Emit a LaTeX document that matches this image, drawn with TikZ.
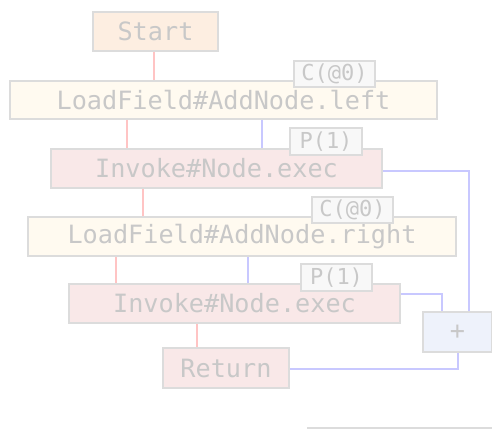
\documentclass[tikz,border=0pt]{standalone}
\usepackage{fontspec}
\setmonofont{DejaVu Sans Mono}
\definecolor{txt}{HTML}{C8C8C8}
\definecolor{bord}{HTML}{DCDCDC}
\definecolor{fstart}{HTML}{FDEEE1}
\definecolor{fload}{HTML}{FFFAF0}
\definecolor{finv}{HTML}{F9E8E8}
\definecolor{fplus}{HTML}{EEF2FB}
\definecolor{flab}{HTML}{F8F8F8}
\definecolor{cred}{HTML}{FFC4C4}
\definecolor{cblue}{HTML}{C8C8FF}
\tikzset{
  box/.style={draw=bord, line width=2pt, inner sep=0pt, anchor=north west, text=txt,
    font=\ttfamily\fontsize{25.2}{27}\selectfont},
  lab/.style={draw=bord, line width=2pt, fill=flab, inner sep=0pt, anchor=north west, text=txt,
    font=\ttfamily\fontsize{22}{24}\selectfont},
  redc/.style={draw=cred, line width=2.2pt},
  bluec/.style={draw=cblue, line width=2.2pt},
}
\begin{document}
\begin{tikzpicture}[x=1pt,y=-1pt]
\useasboundingbox (0,0) rectangle (492,430);
\coordinate (r1) at (154,0);
\coordinate (r2) at (127,0);
\coordinate (r3) at (143,0);
\coordinate (r4) at (116,0);
\coordinate (r5) at (197,0);
\coordinate (b1) at (262,0);
\coordinate (b2) at (248,0);
\coordinate (y1) at (0,171);
\coordinate (y2) at (0,294);
\coordinate (y3) at (0,369);
\coordinate (v1) at (469,0);
\coordinate (v2) at (442,0);
\coordinate (v3) at (458,0);
% nodes
\node[box, fill=fstart, minimum width=125pt, minimum height=39pt] (start) at (92,11) {Start};
\node[box, fill=fload, minimum width=427pt, minimum height=38pt] (lf1) at (9,80) {LoadField\#AddNode.left};
\node[box, fill=finv, minimum width=331pt, minimum height=39pt] (inv1) at (50,148) {Invoke\#Node.exec};
\node[box, fill=fload, minimum width=428pt, minimum height=39pt] (lf2) at (27,216) {LoadField\#AddNode.right};
\node[box, fill=finv, minimum width=331pt, minimum height=39pt] (inv2) at (68,283) {Invoke\#Node.exec};
\node[box, fill=fplus, minimum width=69pt, minimum height=40pt] (plus) at (422,311) {+};
\node[box, fill=finv, minimum width=126pt, minimum height=40pt] (ret) at (162,347) {Return};
% labels
\node[lab, minimum width=81pt, minimum height=26pt] (l1) at (293,60) {C(@0)};
\node[lab, minimum width=72pt, minimum height=27pt] (l2) at (289,127) {P(1)};
\node[lab, minimum width=81pt, minimum height=26pt] (l3) at (311,196) {C(@0)};
\node[lab, minimum width=71pt, minimum height=27pt] (l4) at (300,263) {P(1)};
% red connectors
\draw[redc] (start.south -| r1) -- (lf1.north -| r1);
\draw[redc] (lf1.south -| r2) -- (inv1.north -| r2);
\draw[redc] (inv1.south -| r3) -- (lf2.north -| r3);
\draw[redc] (lf2.south -| r4) -- (inv2.north -| r4);
\draw[redc] (inv2.south -| r5) -- (ret.north -| r5);
% blue connectors
\draw[bluec] (lf1.south -| b1) -- (inv1.north -| b1);
\draw[bluec] (lf2.south -| b2) -- (inv2.north -| b2);
\draw[bluec] (inv1.east |- y1) -- (v1 |- y1) -- (plus.north -| v1);
\draw[bluec] (inv2.east |- y2) -- (v2 |- y2) -- (plus.north -| v2);
\draw[bluec] (plus.south -| v3) -- (v3 |- y3) -- (ret.east |- y3);
% bottom rule
\coordinate (h1) at (307,428);
\coordinate (h2) at (492,428);
\draw[draw=bord, line width=2pt] (h1) -- (h2);
\end{tikzpicture}
\end{document}
